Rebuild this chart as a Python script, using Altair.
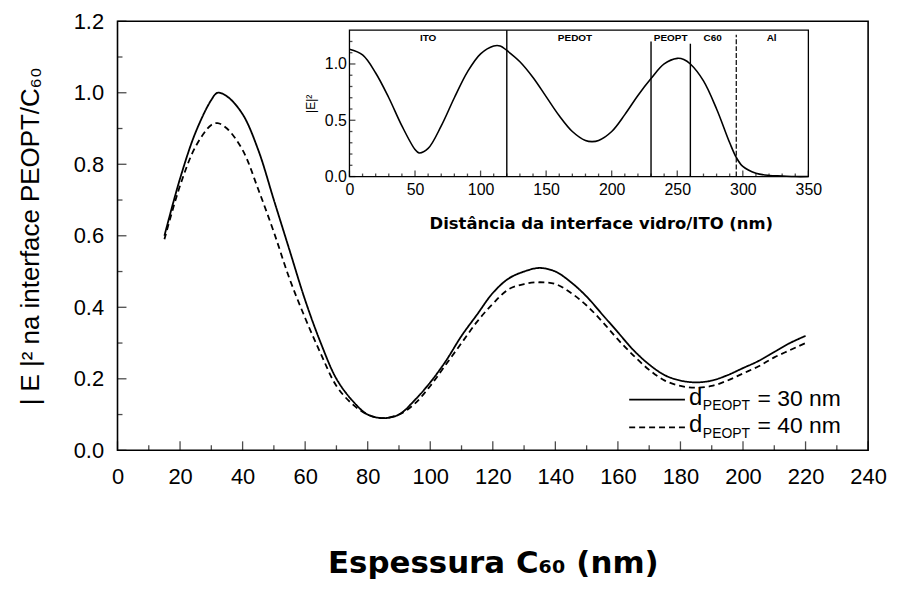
import altair as alt
import pandas as pd

# ---------------- data ----------------
thick = [15, 20, 25, 30, 32, 35, 40, 45, 50, 55, 60, 65, 70, 75, 80, 85, 90, 95,
         100, 105, 110, 115, 120, 125, 130, 135, 140, 145, 150, 155, 160, 165,
         170, 175, 180, 185, 190, 195, 200, 205, 210, 215, 220]
e2_30 = [0.60, 0.76, 0.89, 0.98, 1.00, 0.99, 0.94, 0.84, 0.70, 0.56, 0.42, 0.30,
         0.20, 0.14, 0.10, 0.09, 0.10, 0.14, 0.19, 0.25, 0.32, 0.38, 0.44, 0.48,
         0.50, 0.51, 0.50, 0.47, 0.43, 0.38, 0.33, 0.28, 0.24, 0.21, 0.195, 0.19,
         0.195, 0.21, 0.23, 0.25, 0.275, 0.30, 0.32]
e2_40 = [0.59, 0.74, 0.85, 0.91, 0.915, 0.90, 0.84, 0.73, 0.61, 0.48, 0.37, 0.27,
         0.18, 0.13, 0.10, 0.09, 0.10, 0.13, 0.18, 0.24, 0.30, 0.36, 0.41, 0.45,
         0.465, 0.47, 0.465, 0.44, 0.405, 0.36, 0.31, 0.265, 0.225, 0.195, 0.18,
         0.175, 0.18, 0.195, 0.215, 0.235, 0.26, 0.28, 0.30]

dist = [0, 10, 20, 30, 40, 50, 53, 60, 70, 80, 90, 100, 110, 115, 120, 130, 140,
        150, 160, 170, 180, 185, 190, 200, 210, 220, 230, 240, 250, 255, 260, 270,
        280, 290, 295, 300, 310, 320, 330, 340, 350]
field = [1.13, 1.08, 0.92, 0.70, 0.45, 0.24, 0.21, 0.25, 0.45, 0.70, 0.93, 1.09,
         1.16, 1.16, 1.12, 1.02, 0.88, 0.71, 0.54, 0.40, 0.32, 0.31, 0.32, 0.40,
         0.55, 0.72, 0.87, 1.00, 1.05, 1.04, 1.00, 0.85, 0.60, 0.30, 0.17, 0.09,
         0.03, 0.01, 0.005, 0.0, 0.0]

layer_names = ["ITO", "PEDOT", "PEOPT", "C60", "Al"]
layer_pos = [60, 172, 245, 277, 322]
bound_solid = [120, 230, 260]
bound_solid_top = [1.30, 1.20, 1.18]
bound_dashed = [295]
bound_dashed_top = [1.26]

series_labels = ["= 30 nm", "= 40 nm"]

x_major = list(range(0, 241, 20))
x_minor = list(range(10, 240, 20))
y_major = [0.0, 0.2, 0.4, 0.6, 0.8, 1.0, 1.2]
y_minor = [0.1, 0.3, 0.5, 0.7, 0.9, 1.1]
ix_major = [0, 50, 100, 150, 200, 250, 300, 350]
ix_minor = [v for v in range(10, 350, 10) if v % 50 != 0]
iy_major = [0.0, 0.5, 1.0]
iy_minor = [0.1, 0.2, 0.3, 0.4, 0.6, 0.7, 0.8, 0.9, 1.1, 1.2]

# ---------------- layout ----------------
W, H = 754, 431
IL, IR, IT, IB = 233, 694, 9, 156
FONT = "Liberation Sans"
BFONT = "DejaVu Sans"

df_main = pd.DataFrame({"x": thick * 2, "y": e2_30 + e2_40,
                        "s": ["30"] * len(thick) + ["40"] * len(thick)})

xs = alt.Scale(domain=[0, 240], nice=False, zero=False)
ys = alt.Scale(domain=[0, 1.2], nice=False)

xaxis = alt.Axis(values=x_major, ticks=False, tickSize=0, domain=False, grid=False,
                 labelFontSize=22, labelPadding=16, labelFont=FONT, labelColor="black",
                 title="Espessura C₆₀ (nm)", titleFontSize=31, titleFont=BFONT,
                 titleFontWeight="bold", titlePadding=62, titleColor="black",
                 labelFlush=False)
yaxis = alt.Axis(values=y_major, format=".1f", ticks=False, tickSize=0, domain=False,
                 grid=False, labelFontSize=22, labelPadding=14, labelFont=FONT,
                 labelColor="black", title="| E |² na interface PEOPT/C₆₀",
                 titleFontSize=26, titleFont=FONT, titleFontWeight="normal",
                 titlePadding=30, titleColor="black")

lines = alt.Chart(df_main).mark_line(color="black", strokeWidth=1.8,
                                      interpolate="catmull-rom").encode(
    x=alt.X("x:Q", scale=xs, axis=xaxis),
    y=alt.Y("y:Q", scale=ys, axis=yaxis),
    strokeDash=alt.StrokeDash("s:N", scale=alt.Scale(domain=["30", "40"],
                                                       range=[[1, 0], [6, 4]]),
                              legend=None),
)


def xticks(vals, size, xscale, scale_y):
    return alt.Chart(pd.DataFrame({"v": vals, "z": [0.0] * len(vals)})).mark_tick(
        orient="vertical", color="black", thickness=1.3, size=size, yOffset=-size / 2
    ).encode(x=alt.X("v:Q", scale=xscale), y=alt.Y("z:Q", scale=scale_y))


def yticks(vals, size, yscale, scale_x):
    return alt.Chart(pd.DataFrame({"v": vals, "z": [0.0] * len(vals)})).mark_tick(
        orient="horizontal", color="black", thickness=1.3, size=size, xOffset=size / 2
    ).encode(y=alt.Y("v:Q", scale=yscale), x=alt.X("z:Q", scale=scale_x))


# legend (manual, to allow subscripts), pixel placement inside the plot
leg = pd.DataFrame({"row": [0]})
leg_items = []
for i, dash in enumerate([[1, 0], [6, 4]]):
    yy = [380, 408][i]
    leg_items.append(alt.Chart(leg).mark_rule(color="black", strokeWidth=1.8,
                                              strokeDash=dash).encode(
        x=alt.value(514), x2=alt.value(570), y=alt.value(yy)))
    leg_items.append(alt.Chart(leg).mark_text(text="d", font=FONT, fontSize=24,
                                              align="left", baseline="middle").encode(
        x=alt.value(574), y=alt.value(yy - 2)))
    leg_items.append(alt.Chart(leg).mark_text(text="PEOPT", font=FONT, fontSize=14,
                                              align="left", baseline="middle").encode(
        x=alt.value(588), y=alt.value(yy + 7)))
    leg_items.append(alt.Chart(leg).mark_text(text=series_labels[i], font=FONT,
                                              fontSize=23, align="left",
                                              baseline="middle").encode(
        x=alt.value(643), y=alt.value(yy - 1)))

main = alt.layer(
    lines,
    xticks(x_major, 9, xs, ys), xticks(x_minor, 5, xs, ys),
    yticks(y_major, 9, ys, xs), yticks(y_minor, 5, ys, xs),
    *leg_items,
)

# ---------------- inset ----------------
ixs = alt.Scale(domain=[0, 350], range=[IL, IR], nice=False, zero=False)
iys = alt.Scale(domain=[0, 1.3], range=[IB, IT], nice=False)

frame = alt.Chart(pd.DataFrame({"a": [0], "b": [350], "c": [0], "d": [1.3]})).mark_rect(
    fill="white", stroke="black", strokeWidth=1.3).encode(
    x=alt.X("a:Q", scale=ixs,
            axis=alt.Axis(orient="bottom", offset=-(H - IB), values=ix_major,
                          ticks=False, tickSize=0, domain=False, grid=False,
                          labelFontSize=16, labelFont=FONT, labelColor="black",
                          labelPadding=5, labelFlush=False,
                          title="Distância da interface vidro/ITO (nm)",
                          titleFontSize=16.5, titleFont=BFONT, titleFontWeight="bold",
                          titlePadding=18, titleColor="black",
                          titleX=(IL + IR) / 2 + 22, titleAlign="center")),
    x2="b:Q",
    y=alt.Y("c:Q", scale=iys,
            axis=alt.Axis(orient="left", offset=-IL, values=iy_major, format=".1f",
                          ticks=False, tickSize=0, domain=False, grid=False,
                          labelFontSize=16, labelFont=FONT, labelColor="black",
                          labelPadding=3, title="|E|²", titleFontSize=12,
                          titleFont=FONT, titleFontWeight="normal", titlePadding=7,
                          titleColor="black")),
    y2="d:Q",
)

curve = alt.Chart(pd.DataFrame({"x": dist, "y": field})).mark_line(
    color="black", strokeWidth=1.6, interpolate="catmull-rom").encode(
    x=alt.X("x:Q", scale=ixs), y=alt.Y("y:Q", scale=iys))

vsolid = alt.Chart(pd.DataFrame({"x": bound_solid, "t": bound_solid_top,
                                 "z": [0.0] * len(bound_solid)})).mark_rule(
    color="black", strokeWidth=1.4).encode(
    x=alt.X("x:Q", scale=ixs), y=alt.Y("z:Q", scale=iys), y2="t:Q")
vdash = alt.Chart(pd.DataFrame({"x": bound_dashed, "t": bound_dashed_top,
                                "z": [0.0]})).mark_rule(
    color="black", strokeWidth=1.2, strokeDash=[5, 2]).encode(
    x=alt.X("x:Q", scale=ixs), y=alt.Y("z:Q", scale=iys), y2="t:Q")

names = alt.Chart(pd.DataFrame({"x": layer_pos, "n": layer_names,
                                "h": [1.23] * len(layer_pos)})).mark_text(
    font=FONT, fontSize=10, fontWeight="bold", baseline="middle").encode(
    x=alt.X("x:Q", scale=ixs), y=alt.Y("h:Q", scale=iys), text="n:N")

inset = alt.layer(
    frame, curve, vsolid, vdash, names,
    xticks(ix_major, 6, ixs, iys), xticks(ix_minor, 3, ixs, iys),
    yticks(iy_major, 6, iys, ixs), yticks(iy_minor, 3, iys, ixs),
)

chart = alt.layer(main, inset).resolve_scale(x="independent", y="independent").properties(
    width=W, height=H,
    autosize=alt.AutoSizeParams(type="none"),
    padding={"left": 110, "top": 12, "right": 24, "bottom": 135},
    background="white",
).configure_view(stroke="black", strokeWidth=1.6)

chart.save("out.html", embed_options={"renderer": "svg", "actions": False})
